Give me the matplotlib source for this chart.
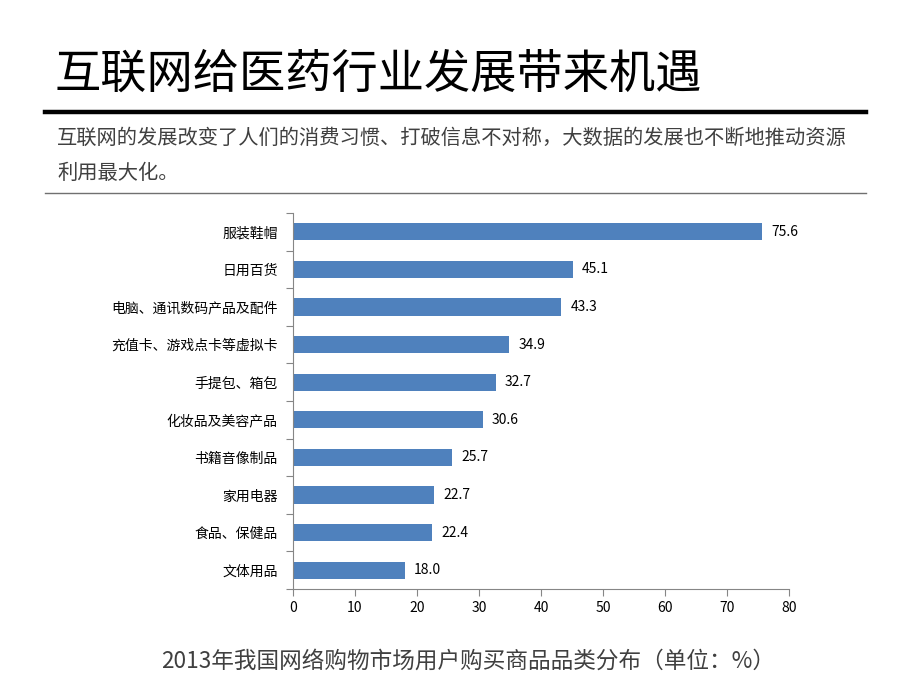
import numpy as np
import matplotlib.pyplot as plt

plt.rcParams['font.family'] = ['Noto Sans CJK SC', 'DejaVu Sans']

categories = ['服装鞋帽', '日用百货', '电脑、通讯数码产品及配件', '充值卡、游戏点卡等虚拟卡',
              '手提包、箱包', '化妆品及美容产品', '书籍音像制品', '家用电器', '食品、保健品', '文体用品']
values = [75.6, 45.1, 43.3, 34.9, 32.7, 30.6, 25.7, 22.7, 22.4, 18.0]
x_ticks = [0, 10, 20, 30, 40, 50, 60, 70, 80]

title = '互联网给医药行业发展带来机遇'
subtitle1 = '互联网的发展改变了人们的消费习惯、打破信息不对称，大数据的发展也不断地推动资源'
subtitle2 = '利用最大化。'
caption = '2013年我国网络购物市场用户购买商品品类分布（单位：%）'

fig = plt.figure(figsize=(9.2, 6.9), dpi=100)

# header texts and rules
fig.text(55 / 920, 1 - 74 / 690, title, fontsize=33.3, color='black', va='center', ha='left',
         style='italic', fontweight='medium')
fig.add_artist(plt.Line2D([45 / 920, 866 / 920], [1 - 112 / 690] * 2, color='black', lw=3.2))
fig.text(57 / 920, 1 - 138 / 690, subtitle1, fontsize=14.6, color='#404040', va='center', ha='left')
fig.text(57 / 920, 1 - 173 / 690, subtitle2, fontsize=14.6, color='#404040', va='center', ha='left')
fig.add_artist(plt.Line2D([45 / 920, 866 / 920], [1 - 193 / 690] * 2, color='#707070', lw=1))

ax = fig.add_axes([293 / 920, 1 - 589 / 690, 496 / 920, 376 / 690])
y = np.arange(len(categories))
ax.barh(y, values, height=0.46, color='#4F81BD')
for yi, v in zip(y, values):
    ax.text(v + 1.5, yi, '%.1f' % v, va='center', ha='left', fontsize=10, color='black')

ax.set_xlim(0, 80)
ax.set_ylim(len(categories) - 0.5, -0.5)
ax.set_xticks(x_ticks)
ax.set_xticklabels([str(t) for t in x_ticks], fontsize=10)
ax.set_yticks(np.arange(-0.5, len(categories), 1))
ax.set_yticklabels([])
ax.set_yticks(y, minor=True)
ax.set_yticklabels(categories, minor=True, fontsize=10)
ax.tick_params(axis='y', which='minor', length=0, pad=11)
ax.tick_params(axis='y', which='major', length=5, color='#868686')
ax.tick_params(axis='x', length=5, color='#868686', pad=4)
for s in ['top', 'right']:
    ax.spines[s].set_visible(False)
for s in ['left', 'bottom']:
    ax.spines[s].set_color('#868686')

fig.text(468 / 920, 1 - 661 / 690, caption, fontsize=16.3, color='#404040', va='center', ha='center')

fig.savefig('out.png', dpi=100)
